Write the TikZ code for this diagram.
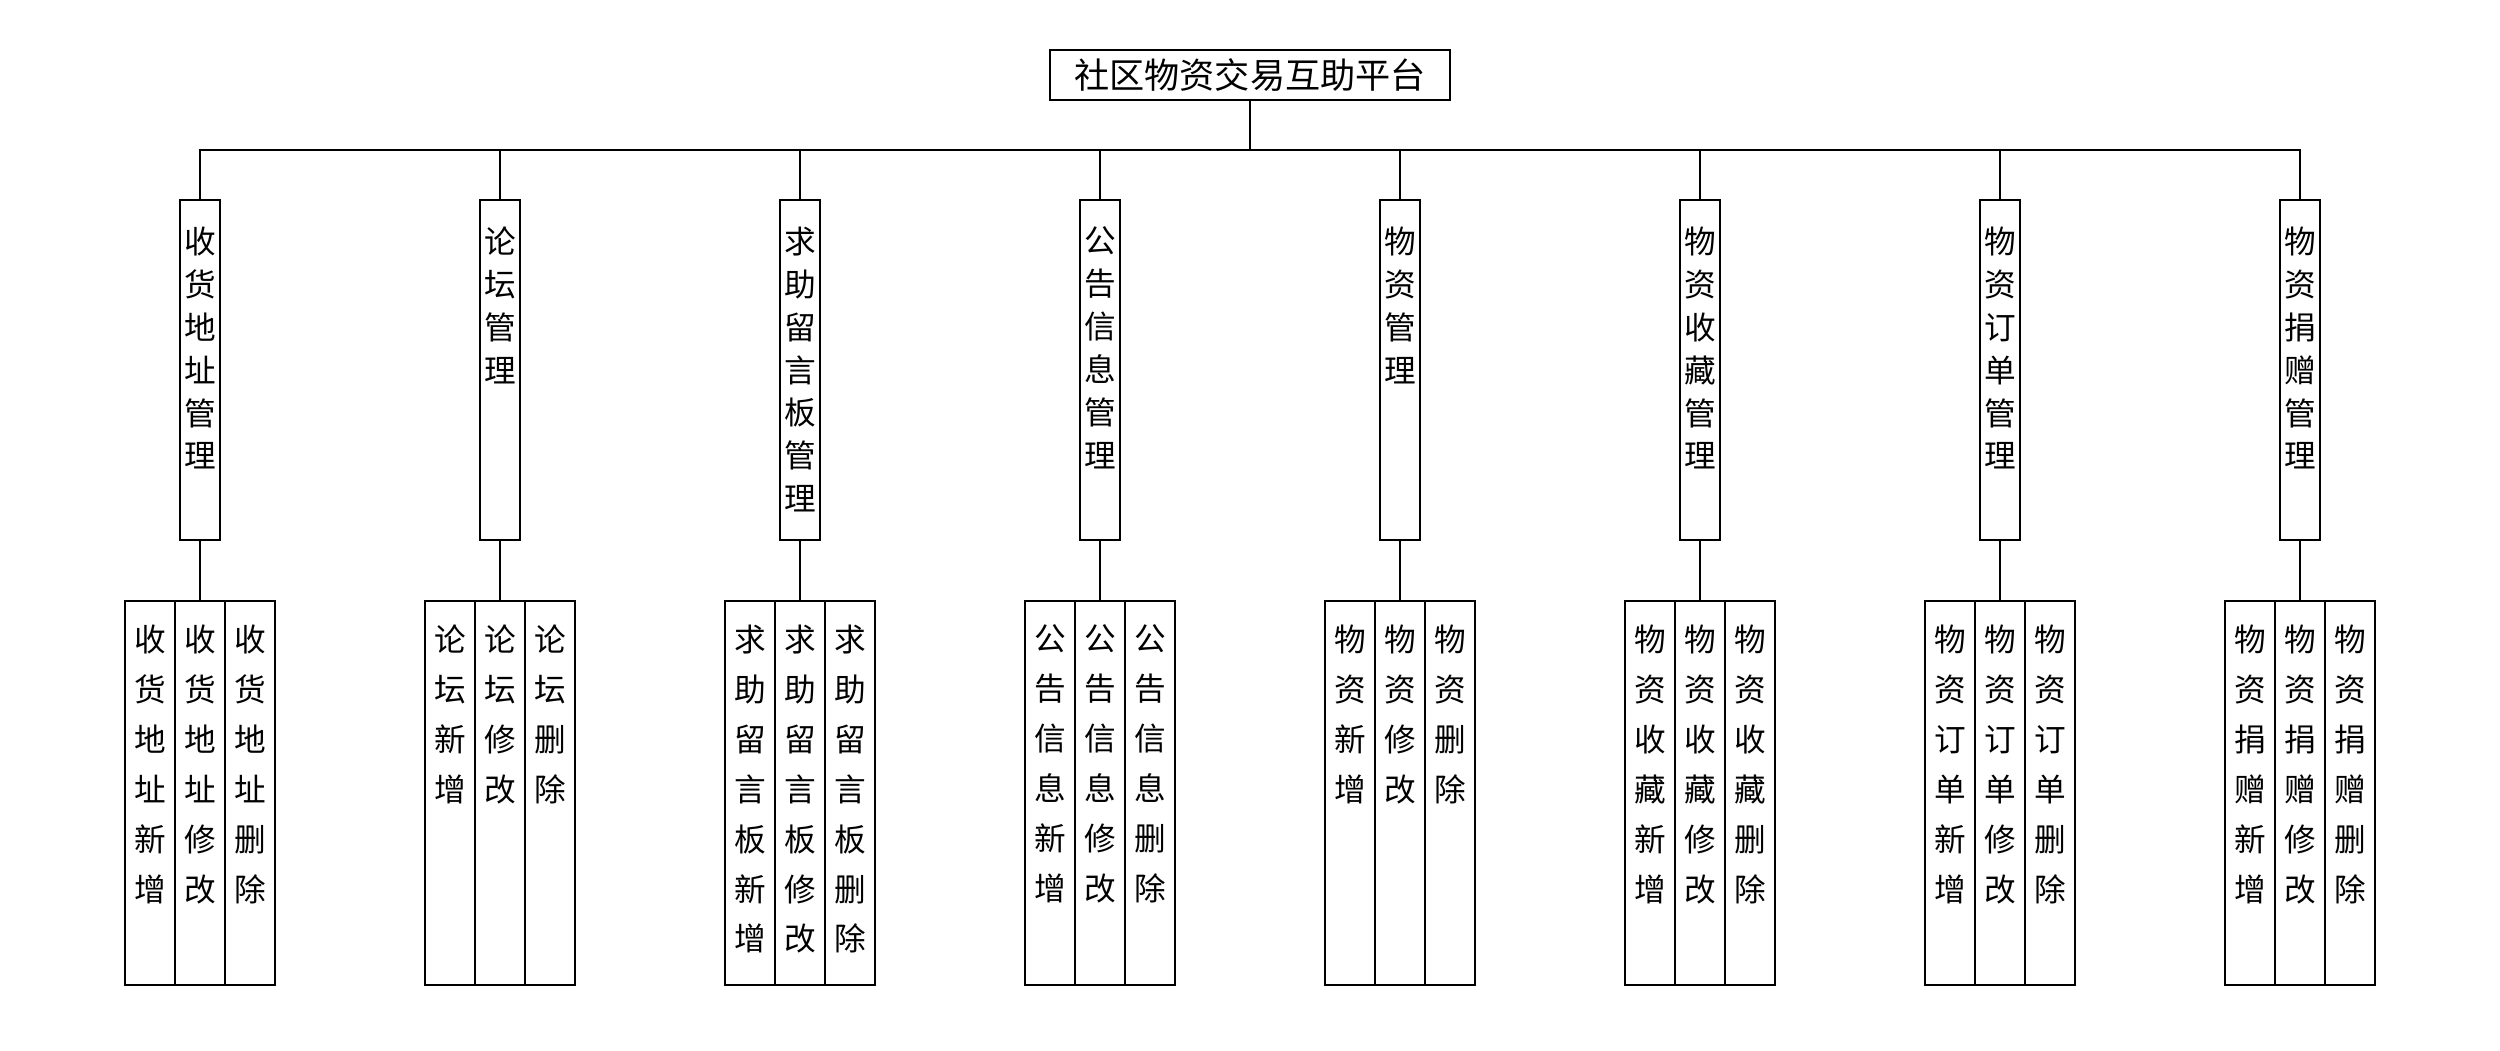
\documentclass[tikz,border=0pt]{standalone}
\usepackage{fontspec}
\newfontfamily\cjk{Noto Sans CJK SC}

\tikzset{
    box/.style={draw, inner sep=0pt, outer sep=0pt},
    modbox/.style={box, minimum width=0.4cm, minimum height=3.4cm, anchor=north},
    funbox/.style={box, minimum width=0.5cm, minimum height=3.84cm, anchor=north},
    modtext/.style={anchor=north, inner sep=0pt, align=center, font=\cjk\fontsize{9}{12.2}\selectfont},
    funtext/.style={anchor=north, inner sep=0pt, align=center, font=\cjk\fontsize{9}{14.2}\selectfont},
}

\begin{document}
\begin{tikzpicture}[x=0.01cm, y=-0.01cm, line width=0.45pt]
    \useasboundingbox (0,0) rectangle (2500,1050);

    % root
    \node[box, minimum width=4cm, minimum height=0.5cm, font=\cjk\fontsize{10}{12}\selectfont] (root) at (1250,75) {社区物资交易互助平台};

    % modules and their functions
    \foreach \i/\p in {1/{收\\货\\地\\址}, 2/{论\\坛}, 3/{求\\助\\留\\言\\板}, 4/{公\\告\\信\\息},
                       5/{物\\资}, 6/{物\\资\\收\\藏}, 7/{物\\资\\订\\单}, 8/{物\\资\\捐\\赠}} {
        \pgfmathsetmacro{\cx}{200+300*(\i-1)}
        \node[modbox] (m\i) at (\cx,200) {};
        \node[modtext] (mt\i) at ([yshift=-0.26cm]m\i.north) {\p\\管\\理};
        \draw (root.south) -- ++(0,50) -| (m\i.north);

        \node[funbox] (fa\i) at (\cx-50,601) {};
        \node[funbox] (fb\i) at (\cx,601) {};
        \node[funbox] (fc\i) at (\cx+50,601) {};
        \node[funtext] (fat\i) at ([yshift=-0.23cm]fa\i.north) {\p\\新\\增};
        \node[funtext] (fbt\i) at ([yshift=-0.23cm]fb\i.north) {\p\\修\\改};
        \node[funtext] (fct\i) at ([yshift=-0.23cm]fc\i.north) {\p\\删\\除};
        \draw (m\i.south) -- (fb\i.north);
    }
\end{tikzpicture}
\end{document}
